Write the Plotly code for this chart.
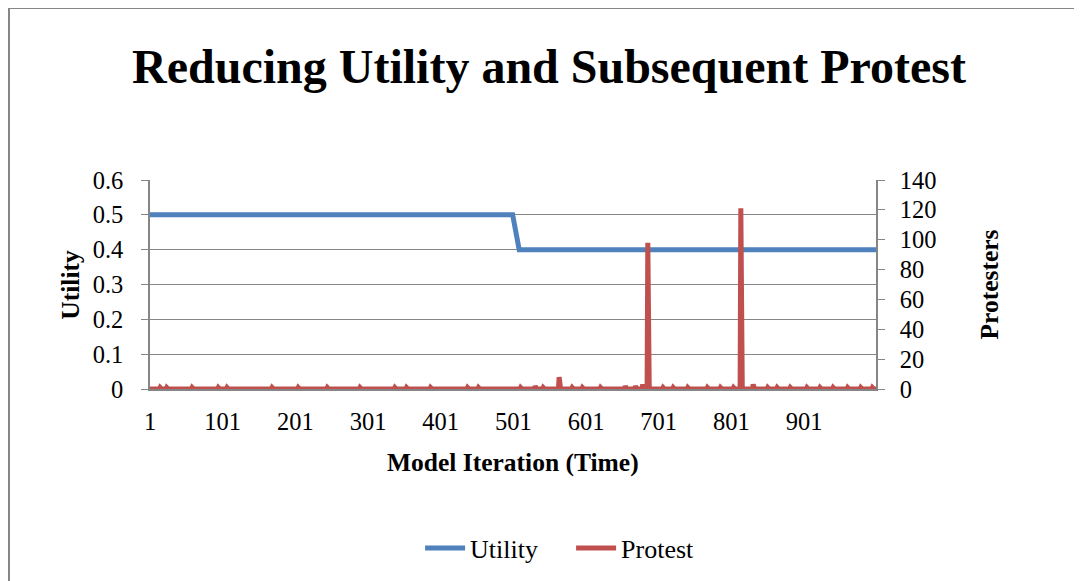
import numpy as np
import plotly.graph_objects as go

# Utility steps down from 0.5 to 0.4 around iteration 500
utility_iter = [1, 500, 509, 1000]
utility_value = [0.5, 0.5, 0.4, 0.4]

# Protest is zero almost everywhere; only the iterations with protesters are listed
protest_iter = [15, 24, 59, 95, 107, 169, 205, 245, 249, 290, 338, 354, 387, 438, 453,
                511, 531, 542, 564, 582, 596, 621, 655, 669, 679, 686, 707, 721, 741,
                768, 786, 804, 814, 831, 851, 864, 882, 905, 923, 941, 961, 979, 995]
protest_count = [1, 1, 1, 1, 1, 1, 1, 1, 1, 1, 1, 1, 1, 1, 1,
                 1, 2, 1, 8, 1, 1, 1, 2, 2, 3, 98, 1, 1, 1,
                 1, 1, 1, 121, 3, 1, 1, 1, 1, 1, 1, 1, 1, 1]

n_iter = 1000
x_ticks = [1, 101, 201, 301, 401, 501, 601, 701, 801, 901]
left_ticks = [0, 0.1, 0.2, 0.3, 0.4, 0.5, 0.6]
left_labels = ["0", "0.1", "0.2", "0.3", "0.4", "0.5", "0.6"]
right_ticks = [0, 20, 40, 60, 80, 100, 120, 140]

iterations = np.arange(1, n_iter + 1)
protest = np.zeros(n_iter)
for i, c in zip(protest_iter, protest_count):
    protest[i - 1] = c

font = "Liberation Serif, Times New Roman, serif"
grey = "#868686"

# the page body adds an 8px offset, so the plot area is placed 8px up/left
L, T, W, H = 142, 172, 726, 209

fig = go.Figure()
fig.add_trace(go.Scatter(x=utility_iter, y=utility_value, name="Utility", mode="lines",
                         line=dict(color="#4F81BD", width=5)))
fig.add_trace(go.Scatter(x=iterations, y=protest, name="Protest", mode="lines", yaxis="y2",
                         line=dict(color="#C0504D", width=5)))

fig.update_layout(
    width=1082, height=581,
    margin=dict(l=L, r=1082 - L - W, t=T, b=581 - T - H),
    paper_bgcolor="white", plot_bgcolor="white",
    font=dict(family=font, size=24.5, color="black"),
    showlegend=True,
    legend=dict(orientation="h", x=0.58, xanchor="center", y=-0.761, yanchor="middle",
                font=dict(size=26), itemwidth=40, entrywidth=96),
    xaxis=dict(range=[1, n_iter], tickvals=x_ticks, ticktext=[str(t) for t in x_ticks],
               showgrid=False, zeroline=False, showline=True, linecolor=grey, linewidth=1.5,
               ticks="", ticklabelstandoff=10),
    yaxis=dict(range=[0, 0.6], tickvals=left_ticks, ticktext=left_labels,
               showgrid=True, gridcolor=grey, gridwidth=1.2, zeroline=False,
               showline=True, linecolor=grey, linewidth=1.5,
               ticks="outside", ticklen=7, tickcolor=grey, ticklabelstandoff=13),
    yaxis2=dict(range=[0, 140], tickvals=right_ticks, overlaying="y", side="right",
                showgrid=False, zeroline=False, showline=True, linecolor=grey, linewidth=1.5,
                ticks="outside", ticklen=7, tickcolor=grey, ticklabelstandoff=10),
    title=dict(text="<b>Reducing Utility and Subsequent Protest</b>", x=0.50, xanchor="center",
               y=0.9, yanchor="middle", font=dict(family=font, size=48)),
)

fig.add_annotation(text="<b>Model Iteration (Time)</b>", xref="paper", yref="paper",
                   x=0.5, y=-0.354, xanchor="center", yanchor="middle",
                   showarrow=False, font=dict(size=25.5))
fig.add_annotation(text="<b>Utility</b>", xref="paper", yref="paper", textangle=-90,
                   x=-0.11, y=0.5, xanchor="center", yanchor="middle",
                   showarrow=False, font=dict(size=25.5))
fig.add_annotation(text="<b>Protesters</b>", xref="paper", yref="paper", textangle=-90,
                   x=1.157, y=0.5, xanchor="center", yanchor="middle",
                   showarrow=False, font=dict(size=25.5))

# outer chart frame
fig.add_shape(type="rect", xref="paper", yref="paper",
              x0=(1 - L) / W, x1=(1100 - L) / W,
              y0=(T + H - 600) / H, y1=(T + H) / H,
              line=dict(color=grey, width=2), layer="below")

fig.write_html("out.html")
